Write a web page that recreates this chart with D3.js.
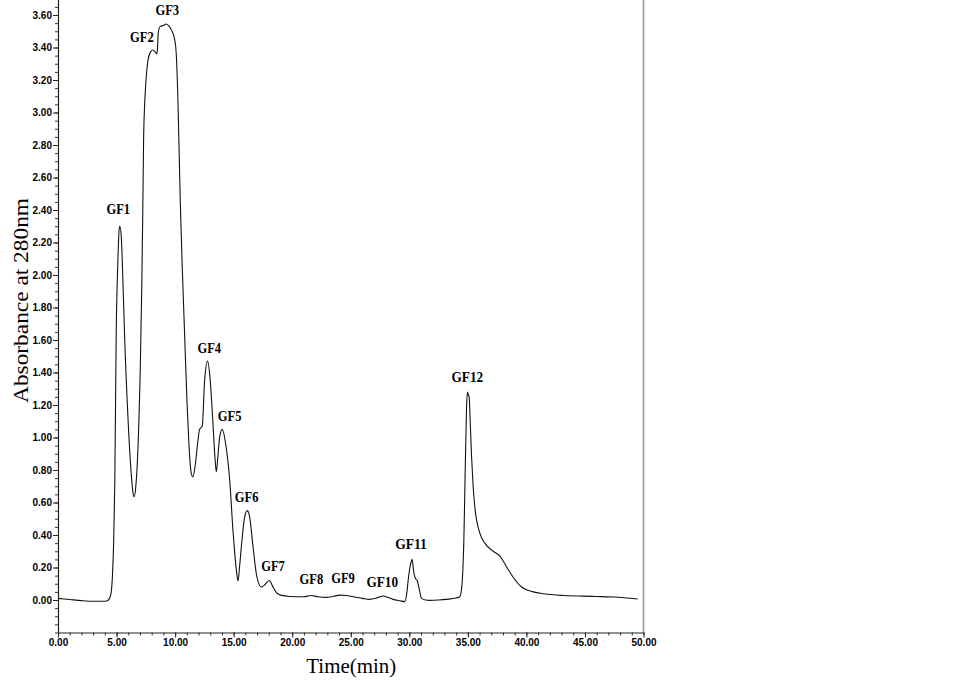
<!DOCTYPE html>
<html>
<head>
<meta charset="utf-8">
<script src="https://cdn.jsdelivr.net/npm/d3@7/dist/d3.min.js"></script>
<style>
  html, body { margin: 0; padding: 0; background: #fff; }
  svg { display: block; }
</style>
</head>
<body>
<svg id="chart" width="960" height="700"></svg>
<script>
// ---- data ----
const timeMin = [
  0.0, 1.0, 2.0, 3.0, 4.0, 4.3, 4.5, 4.65, 4.75, 4.85, 4.97, 5.1, 5.22, 5.28, 5.4, 5.55, 5.68, 5.97, 6.25, 6.4,
  6.5, 6.62, 6.82, 7.03, 7.16, 7.25, 7.31, 7.4, 7.48, 7.68, 7.88, 8.1, 8.33, 8.45, 8.5, 8.56, 8.73, 9.0, 9.25, 9.5,
  9.67, 9.96, 10.1, 10.24, 10.44, 10.61, 10.81, 11.01, 11.18, 11.38, 11.52, 11.7, 11.95, 12.09, 12.32, 12.52, 12.78, 13.0, 13.23, 13.4,
  13.52, 13.65, 13.8, 14.03, 14.32, 14.66, 14.94, 15.23, 15.37, 15.5, 15.66, 15.94, 16.17, 16.37, 16.65, 16.99, 17.37, 17.6, 18.05, 18.3,
  18.65, 19.0, 19.8, 21.0, 21.6, 22.2, 22.9, 23.5, 24.06, 24.6, 25.2, 26.0, 26.6, 27.2, 27.76, 28.2, 28.6, 29.2, 29.6, 29.8,
  29.9, 30.05, 30.18, 30.24, 30.35, 30.41, 30.55, 30.67, 30.84, 31.04, 31.4, 31.75, 32.5, 33.2, 34.0, 34.3, 34.45, 34.55, 34.66, 34.77,
  34.89, 34.97, 35.05, 35.11, 35.2, 35.32, 35.45, 35.6, 36.03, 36.45, 37.16, 37.74, 38.3, 38.87, 39.59, 40.58, 41.5, 43.15, 46.0, 47.5,
  49.5
];
const absorbance = [
  0.010, 0.003, -0.004, -0.008, -0.008, 0.000, 0.03, 0.15, 0.35, 0.72, 1.64, 2.05, 2.28, 2.30, 2.24, 1.95, 1.64, 1.13, 0.78, 0.66,
  0.635, 0.68, 0.92, 1.44, 1.95, 2.46, 2.83, 3.05, 3.16, 3.32, 3.37, 3.385, 3.37, 3.36, 3.40, 3.49, 3.53, 3.535, 3.545, 3.53,
  3.51, 3.45, 3.36, 3.08, 2.46, 2.05, 1.64, 1.23, 0.96, 0.78, 0.757, 0.82, 0.98, 1.05, 1.07, 1.35, 1.47, 1.35, 1.09, 0.88,
  0.79, 0.88, 1.0, 1.05, 0.96, 0.74, 0.43, 0.185, 0.117, 0.2, 0.33, 0.51, 0.55, 0.51, 0.33, 0.14, 0.08, 0.09, 0.12, 0.09,
  0.045, 0.03, 0.022, 0.02, 0.028, 0.02, 0.016, 0.022, 0.03, 0.028, 0.02, 0.01, 0.004, 0.012, 0.025, 0.015, 0.004, -0.005, -0.01, 0.05,
  0.12, 0.20, 0.24, 0.25, 0.19, 0.16, 0.13, 0.12, 0.07, 0.01, 0.0, -0.002, 0.0, 0.004, 0.012, 0.02, 0.06, 0.15, 0.37, 0.78,
  1.19, 1.28, 1.26, 1.25, 1.1, 0.88, 0.70, 0.57, 0.41, 0.35, 0.30, 0.27, 0.205, 0.14, 0.08, 0.05, 0.038, 0.028, 0.022, 0.018,
  0.006
];

const peakNames = ["GF1","GF2","GF3","GF4","GF5","GF6","GF7","GF8","GF9","GF10","GF11","GF12"];
const peakLabelTime = [5.15, 7.16, 9.33, 12.92, 14.66, 16.11, 18.36, 21.64, 24.34, 27.69, 30.15, 34.96];
const peakLabelAbs  = [2.375, 3.432, 3.60, 1.517, 1.10, 0.605, 0.178, 0.098, 0.106, 0.08, 0.314, 1.343];

const xTicks = [0, 5, 10, 15, 20, 25, 30, 35, 40, 45, 50];
const xMinorTicks = d3.range(0, 51, 1);
const yTicks = [0, 0.2, 0.4, 0.6, 0.8, 1.0, 1.2, 1.4, 1.6, 1.8, 2.0, 2.2, 2.4, 2.6, 2.8, 3.0, 3.2, 3.4, 3.6];
const yMinorTicks = d3.range(-0.2, 3.70001, 0.05);

const xTitle = "Time(min)";
const yTitle = "Absorbance at 280nm";

// ---- drawing ----
const svg = d3.select("#chart");
svg.append("rect").attr("width", 960).attr("height", 700).attr("fill", "#fff");

const x = d3.scaleLinear().domain([0, 50]).range([58, 643.5]);
const y = d3.scaleLinear().domain([-0.2, 3.7]).range([632.5, -1.25]);

// right frame line
svg.append("line")
  .attr("x1", x(50)).attr("x2", x(50))
  .attr("y1", y(3.7)).attr("y2", y(-0.2))
  .attr("stroke", "#9a9a9a").attr("stroke-width", 1.6);

// minor ticks
svg.append("g").attr("transform", `translate(0,${y(-0.2)})`)
  .call(d3.axisBottom(x).tickValues(xMinorTicks).tickSize(3).tickSizeOuter(0).tickFormat(""))
  .call(g => g.select(".domain").remove())
  .selectAll("line").attr("stroke", "#333");
svg.append("g").attr("transform", `translate(${x(0)},0)`)
  .call(d3.axisLeft(y).tickValues(yMinorTicks).tickSize(3).tickSizeOuter(0).tickFormat(""))
  .call(g => g.select(".domain").remove())
  .selectAll("line").attr("stroke", "#333");

// major axes
const xAxis = svg.append("g").attr("transform", `translate(0,${y(-0.2)})`)
  .call(d3.axisBottom(x).tickValues(xTicks).tickSize(5).tickPadding(1).tickSizeOuter(0).tickFormat(d3.format(".2f")));
const yAxis = svg.append("g").attr("transform", `translate(${x(0)},0)`)
  .call(d3.axisLeft(y).tickValues(yTicks).tickSize(5).tickPadding(1).tickSizeOuter(0).tickFormat(d3.format(".2f")));

[xAxis, yAxis].forEach(g => {
  g.select(".domain").attr("stroke", "#222").attr("stroke-width", 1.2);
  g.selectAll(".tick line").attr("stroke", "#222");
  g.selectAll(".tick text")
    .attr("fill", "#000")
    .style("font-family", "'Liberation Sans', Arial, sans-serif")
    .style("font-size", "10px")
    .style("font-weight", "bold");
});

// curve
const pts = timeMin.map((t, i) => [t, absorbance[i]]);
svg.append("path")
  .datum(pts)
  .attr("fill", "none")
  .attr("stroke", "#111")
  .attr("stroke-width", 1.1)
  .attr("stroke-linejoin", "round")
  .attr("d", d3.line().x(d => x(d[0])).y(d => y(d[1])).curve(d3.curveMonotoneX));

// peak labels
svg.append("g").selectAll("text")
  .data(peakNames)
  .join("text")
  .attr("x", (d, i) => x(peakLabelTime[i]))
  .attr("y", (d, i) => y(peakLabelAbs[i]))
  .attr("text-anchor", "middle")
  .attr("textLength", d => d.length * 7.9)
  .attr("lengthAdjust", "spacingAndGlyphs")
  .style("font-family", "'Liberation Serif', 'Times New Roman', serif")
  .style("font-size", "15px")
  .style("font-weight", "bold")
  .attr("fill", "#000")
  .text(d => d);

// axis titles
svg.append("text")
  .attr("x", (x(0) + x(50)) / 2 + 0.5)
  .attr("y", 673)
  .attr("text-anchor", "middle")
  .attr("textLength", 90)
  .attr("lengthAdjust", "spacingAndGlyphs")
  .style("font-family", "'Liberation Serif', 'Times New Roman', serif")
  .style("font-size", "20px")
  .attr("fill", "#000")
  .text(xTitle);

svg.append("text")
  .attr("transform", "translate(28,300.5) rotate(-90)")
  .attr("text-anchor", "middle")
  .attr("textLength", 205)
  .attr("lengthAdjust", "spacingAndGlyphs")
  .style("font-family", "'Liberation Serif', 'Times New Roman', serif")
  .style("font-size", "21px")
  .attr("fill", "#000")
  .text(yTitle);
</script>
</body>
</html>
